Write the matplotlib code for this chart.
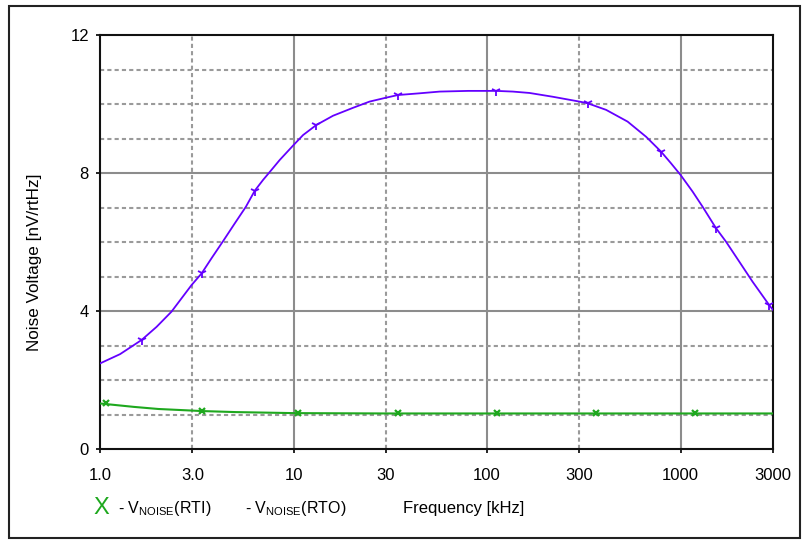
import matplotlib
matplotlib.use("Agg")
import matplotlib.pyplot as plt
from matplotlib.patches import Rectangle

plt.rcParams['font.family'] = ['Liberation Sans', 'DejaVu Sans']
plt.rcParams['mathtext.fontset'] = 'custom'
plt.rcParams['mathtext.rm'] = 'Liberation Sans'

# RTO curve (purple)
rto_freq = [1.0, 1.27, 1.64, 1.96, 2.34, 2.97, 3.35, 3.77, 4.33, 4.97, 5.67, 6.31, 6.96, 7.69,
            8.49, 10.0, 11.2, 13.1, 16.0, 20.3, 24.7, 29.9, 34.6, 44.8, 56.9, 80, 111.5, 135.8,
            165.6, 218.5, 300, 331, 412, 532, 663, 792, 892, 1000, 1153, 1299, 1523, 1715,
            2009, 2352, 2869, 3000]
rto_val = [2.48, 2.75, 3.16, 3.54, 3.98, 4.75, 5.09, 5.53, 6.03, 6.54, 7.02, 7.49, 7.80, 8.09,
           8.38, 8.81, 9.10, 9.39, 9.66, 9.89, 10.07, 10.18, 10.26, 10.31, 10.36, 10.38, 10.38, 10.36,
           10.32, 10.21, 10.07, 10.02, 9.83, 9.49, 9.05, 8.62, 8.28, 7.94, 7.46, 7.02, 6.40, 6.01,
           5.43, 4.85, 4.17, 4.03]
rto_mark_freq = [1.64, 3.35, 6.31, 13.1, 34.6, 111.5, 331, 792, 1523, 2869]
rto_mark_val = [3.16, 5.09, 7.49, 9.39, 10.26, 10.38, 10.02, 8.62, 6.40, 4.17]

# RTI curve (green)
rti_freq = [1.0, 1.5, 2.0, 3.36, 5.0, 10, 30, 3000]
rti_val = [1.32, 1.22, 1.16, 1.10, 1.07, 1.04, 1.03, 1.03]
rti_mark_freq = [1.07, 3.36, 10.6, 34.6, 112, 364, 1185]
rti_mark_val = [1.33, 1.10, 1.04, 1.03, 1.03, 1.03, 1.03]

x_ticks = [1, 3, 10, 30, 100, 300, 1000, 3000]
x_labels = ["1.0", "3.0", "10", "30", "100", "300", "1000", "3000"]
y_ticks = [0, 4, 8, 12]
x_solid = [10, 100, 1000]
x_dashed = [3, 30, 300]
y_solid = [4, 8]
y_dashed = [1, 2, 3, 5, 6, 7, 9, 10, 11]

purple = '#6400ff'
green = '#1ea81e'

W, H = 806, 542
fig = plt.figure(figsize=(W / 100, H / 100), dpi=100)
fig.patches.append(Rectangle((9 / W, 4 / H), 791 / W, 532 / H, transform=fig.transFigure,
                             fill=False, edgecolor='#222222', lw=1.5))

ax = fig.add_axes([100 / W, (H - 449) / H, 673 / W, 414 / H])
ax.set_xscale('log')
ax.set_xlim(1, 3000)
ax.set_ylim(0, 12)

for v in x_solid:
    ax.axvline(v, color='#8c8c8c', lw=1.5, zorder=1)
for v in x_dashed:
    ax.axvline(v, color='#9a9a9a', lw=1.5, ls=(0, (2, 1.5)), zorder=1)
for v in y_solid:
    ax.axhline(v, color='#8c8c8c', lw=1.5, zorder=1)
for v in y_dashed:
    ax.axhline(v, color='#9a9a9a', lw=1.5, ls=(0, (2, 1.5)), zorder=1)

ax.plot(rto_freq, rto_val, color=purple, lw=1.3, zorder=3)
ax.plot(rto_mark_freq, rto_mark_val, ls='none', marker='1', ms=7, mew=1.3, color=purple, zorder=4)
ax.plot(rti_freq, rti_val, color=green, lw=1.5, zorder=3)
ax.plot(rti_mark_freq, rti_mark_val, ls='none', marker='x', ms=4, mew=1.6, color=green, zorder=4)

ax.set_xticks(x_ticks)
ax.set_xticklabels(x_labels)
ax.xaxis.set_minor_locator(matplotlib.ticker.NullLocator())
ax.set_yticks(y_ticks)
ax.tick_params(direction='out', length=3, width=1.2, labelsize=12, colors='black')
ax.tick_params(axis='x', pad=10.5)
ax.tick_params(axis='y', pad=5)
for s in ax.spines.values():
    s.set_color('#111111')
    s.set_linewidth(1.5)

fig.text(35 / W, 1 - 262 / H, "Noise Voltage [nV/rtHz]", rotation=90, ha='center', va='center',
         fontsize=12.3)

ly = 1 - 508 / H
fig.text(101 / W, ly, "X", color=green, fontsize=17, ha='center', va='center')
fig.text(118 / W, ly, r"- V$_{\mathregular{NOISE}}$(RTI)", fontsize=11.5, ha='left', va='center')
fig.text(245 / W, ly, r"- V$_{\mathregular{NOISE}}$(RTO)", fontsize=11.5, ha='left', va='center')
fig.text(403 / W, ly, "Frequency [kHz]", fontsize=12, ha='left', va='center')

fig.savefig("out.png", dpi=100)
